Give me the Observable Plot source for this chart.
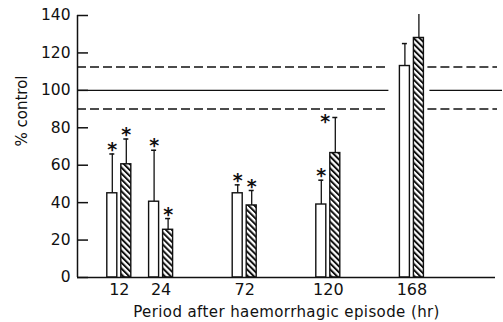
<!DOCTYPE html>
<html><head><meta charset="utf-8">
<script src="https://cdn.jsdelivr.net/npm/d3@7"></script>
<script src="https://cdn.jsdelivr.net/npm/@observablehq/plot@0.6"></script>
<style>body{margin:0;background:#fff} svg{display:block;background:#fff}</style>
</head><body><div id="chart"></div>
<script>
// Period after haemorrhagic episode (hr)
const hours = [12, 24, 72, 120, 168];
// open bars
const plainMean = [45, 40.5, 45, 39, 113];
const plainErr = [21, 27.5, 4.5, 13, 12];
const plainStar = [true, true, true, true, false];
// hatched bars
const hatchMean = [60.5, 25.5, 38.5, 66.5, 128];
const hatchErr = [13.5, 6, 8, 19, 12.5];
const hatchStar = [true, true, true, true, false];
const hatchCap = [true, true, true, true, false];
// control reference (% control)
const controlLine = [100];
const controlLimits = [90, 112.5];
const yTicks = [0, 20, 40, 60, 80, 100, 120, 140];
const xLabel = "Period after haemorrhagic episode (hr)";
const yLabel = "% control";

const plain = hours.map((h, i) => ({hour: h, mean: plainMean[i], top: plainMean[i] + plainErr[i], star: plainStar[i], cap: true}));
const hatch = hours.map((h, i) => ({hour: h, mean: hatchMean[i], top: hatchMean[i] + hatchErr[i], star: hatchStar[i], cap: hatchCap[i]}));

const W = 503, H = 322, ML = 77, MR = 8, MT = 15, MB = 45;
const slot = (W - ML - MR) / 10;
const font = "'DejaVu Sans', 'Liberation Sans', sans-serif";
const ink = "#111";

const refs = [
  ...controlLine.map(v => ({v, dash: null})),
  ...controlLimits.map(v => ({v, dash: "9,4"}))
];

const chart = Plot.plot({
  width: W, height: H,
  marginLeft: ML, marginRight: MR, marginTop: MT, marginBottom: MB,
  style: {fontFamily: font, fontSize: "15px", color: ink, background: "#fff"},
  x: {type: "linear", domain: [0, 24, 216], range: [ML, ML + 2 * slot, W - MR], axis: null},
  y: {domain: [0, 140], axis: null},
  marks: [
    // reference lines, broken around the last group
    Plot.ruleY(refs.filter(d => !d.dash), {y: "v", x1: 0, x2: 168, insetRight: 23, stroke: ink, strokeWidth: 1.4}),
    Plot.ruleY(refs.filter(d => !d.dash), {y: "v", x1: 168, x2: 216, insetLeft: 18, insetRight: -7, stroke: ink, strokeWidth: 1.4}),
    Plot.ruleY(refs.filter(d => d.dash), {y: "v", x1: 0, x2: 168, insetRight: 23, stroke: ink, strokeWidth: 1.4, strokeDasharray: "9,4"}),
    Plot.ruleY(refs.filter(d => d.dash), {y: "v", x1: 168, x2: 216, insetLeft: 16, insetRight: -2, stroke: ink, strokeWidth: 1.4, strokeDasharray: "9,4"}),
    // error bars
    Plot.ruleX(plain, {x: "hour", y1: "mean", y2: "top", dx: -7, stroke: ink, strokeWidth: 1.3}),
    Plot.ruleY(plain.filter(d => d.cap), {y: "top", x1: "hour", x2: "hour", insetLeft: -9.5, insetRight: 4.5, stroke: ink, strokeWidth: 1.5}),
    Plot.ruleX(hatch, {x: "hour", y1: "mean", y2: "top", dx: 7, stroke: ink, strokeWidth: 1.3}),
    Plot.ruleY(hatch.filter(d => d.cap), {y: "top", x1: "hour", x2: "hour", insetLeft: 4.5, insetRight: -9.5, stroke: ink, strokeWidth: 1.5}),
    // bars
    Plot.rect(plain, {x1: "hour", x2: "hour", y1: 0, y2: "mean", insetLeft: -12, insetRight: 2, fill: "#fff", stroke: ink, strokeWidth: 1.4}),
    Plot.rect(hatch, {x1: "hour", x2: "hour", y1: 0, y2: "mean", insetLeft: 2, insetRight: -12, fill: "url(#hatch)", stroke: ink, strokeWidth: 1.4}),
    // significance stars
    Plot.text(plain.filter(d => d.star), {x: "hour", y: "top", text: () => "*", dx: -7, dy: -4, fontSize: 19, fontWeight: "bold", fill: ink}),
    Plot.text(hatch.filter(d => d.star && d.hour !== 120), {x: "hour", y: "top", text: () => "*", dx: 7, dy: -4, fontSize: 19, fontWeight: "bold", fill: ink}),
    Plot.text(hatch.filter(d => d.star && d.hour === 120), {x: "hour", y: "top", text: () => "*", dx: -3, dy: 4, fontSize: 19, fontWeight: "bold", fill: ink}),
    // axes
    Plot.ruleX([0], {x: d => d, y1: 0, y2: 140, stroke: ink, strokeWidth: 1.5}),
    Plot.ruleY([0], {y: d => d, x1: 0, x2: 216, stroke: ink, strokeWidth: 1.5}),
    Plot.ruleY(yTicks, {y: d => d, x1: 0, x2: 0, insetRight: -11, stroke: ink, strokeWidth: 1.5}),
    Plot.axisY({ticks: yTicks, tickSize: 0, tickPadding: 7, fontSize: 15.5, tickFormat: d => String(d), label: null}),
    Plot.axisX({ticks: hours, tickSize: 0, tickPadding: 6, fontSize: 16, tickFormat: d => String(d), label: null}),
    Plot.text([xLabel], {frameAnchor: "bottom", dy: 35, lineAnchor: "middle", fontSize: 15, fill: ink}),
    Plot.text([yLabel], {frameAnchor: "left", dx: -55, rotate: -90, fontSize: 15, fill: ink})
  ]
});

const svg = d3.select(chart);
svg.selectAll("text").filter(function () { return this.textContent === xLabel; }).attr("letter-spacing", "0.4px");
const defs = svg.insert("defs", ":first-child");
const pat = defs.append("pattern").attr("id", "hatch").attr("patternUnits", "userSpaceOnUse")
  .attr("width", 4.2).attr("height", 4.2).attr("patternTransform", "rotate(-45)");
pat.append("rect").attr("width", 4.2).attr("height", 4.2).attr("fill", "#fff");
pat.append("line").attr("x1", 1).attr("y1", 0).attr("x2", 1).attr("y2", 4.2).attr("stroke", ink).attr("stroke-width", 2);
document.getElementById("chart").appendChild(chart);
</script>
</body></html>
